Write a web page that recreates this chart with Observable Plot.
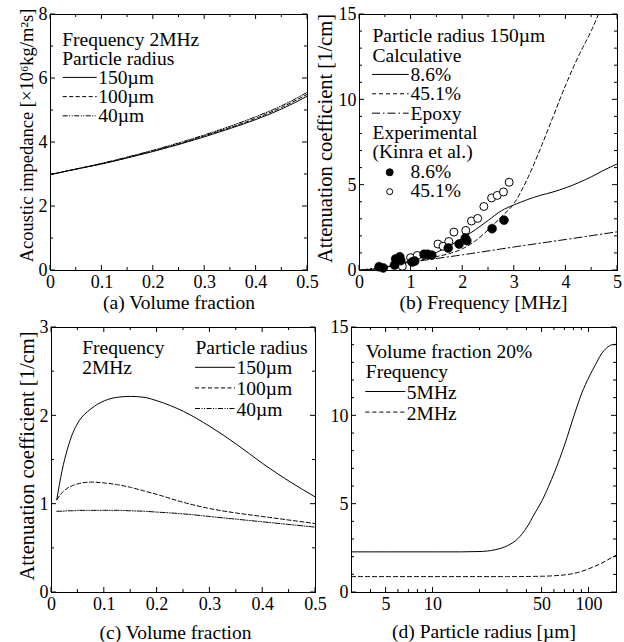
<!DOCTYPE html>
<html><head><meta charset="utf-8">
<script src="https://cdn.jsdelivr.net/npm/d3@7"></script>
<script src="https://cdn.jsdelivr.net/npm/@observablehq/plot@0.6"></script>
<style>
body{margin:0;background:#fff;}
#chart{position:relative;width:624px;height:642px;overflow:hidden;font-family:"Liberation Serif","Times New Roman",serif;}
#chart svg{position:absolute;overflow:visible;background:transparent !important;font-family:"Liberation Serif","Times New Roman",serif !important;}
#chart svg text{font-family:"Liberation Serif","Times New Roman",serif !important;}
</style></head><body><div id="chart"></div>
<script>
// ---------- (a) Acoustic impedance vs volume fraction ----------
const fracA = [0, 0.05, 0.1, 0.15, 0.2, 0.25, 0.3, 0.35, 0.4, 0.45, 0.5];
const impedance150 = [3.0, 3.17, 3.33, 3.52, 3.72, 3.94, 4.18, 4.44, 4.72, 5.05, 5.45];
const impedance100 = [3.0, 3.17, 3.34, 3.53, 3.74, 3.96, 4.21, 4.47, 4.76, 5.10, 5.51];
const impedance40  = [3.0, 3.17, 3.35, 3.55, 3.76, 3.99, 4.24, 4.51, 4.81, 5.15, 5.57];

// ---------- (b) Attenuation vs frequency ----------
const freqCalc = [0, 0.25, 0.5, 0.75, 1, 1.25, 1.5, 1.75, 2, 2.25, 2.5, 2.75, 3, 3.25, 3.5, 3.75, 4, 4.25, 4.5, 4.75, 5];
const att86Calc = [0, 0.06, 0.18, 0.36, 0.58, 0.82, 1.07, 1.45, 1.9, 2.4, 2.95, 3.5, 3.85, 4.15, 4.4, 4.6, 4.85, 5.15, 5.5, 5.9, 6.25];
const freq451 = [0, 0.5, 1, 1.25, 1.5, 1.75, 2, 2.25, 2.5, 2.75, 3, 3.25, 3.5, 3.75, 4, 4.25, 4.5, 4.63];
const att451Calc = [0, 0.2, 0.5, 0.65, 0.82, 1.0, 1.28, 1.75, 2.4, 3.15, 3.95, 5.35, 7.1, 9.0, 10.9, 12.6, 14.1, 15.0];
const freqEpoxy = [0, 1, 2, 3, 4, 5];
const attEpoxy = [0, 0.49, 0.92, 1.38, 1.82, 2.27];
const exp86Freq = [0.38, 0.46, 0.68, 0.70, 0.78, 0.80, 1.02, 1.07, 1.25, 1.32, 1.40, 1.72, 1.93, 2.05, 2.08, 2.57, 2.80];
const exp86Att  = [0.22, 0.15, 0.32, 0.68, 0.80, 0.58, 0.50, 0.55, 0.95, 0.95, 0.90, 1.32, 1.55, 1.90, 1.75, 2.45, 2.95];
const exp451Freq = [0.83, 0.99, 1.12, 1.52, 1.62, 1.73, 1.83, 2.06, 2.17, 2.29, 2.41, 2.56, 2.67, 2.79, 2.90];
const exp451Att  = [0.25, 0.75, 0.88, 1.55, 1.42, 1.70, 2.25, 2.35, 2.90, 3.05, 3.75, 4.25, 4.40, 4.60, 5.17];

// ---------- (c) Attenuation vs volume fraction ----------
const fracC = [0.01, 0.02, 0.03, 0.04, 0.05, 0.075, 0.1, 0.125, 0.15, 0.175, 0.2, 0.25, 0.3, 0.35, 0.4, 0.45, 0.5];
const attC150 = [1.05, 1.38, 1.62, 1.8, 1.92, 2.08, 2.17, 2.21, 2.22, 2.21, 2.17, 2.05, 1.88, 1.68, 1.46, 1.26, 1.08];
const attC100 = [1.05, 1.13, 1.18, 1.21, 1.23, 1.25, 1.24, 1.22, 1.19, 1.15, 1.11, 1.02, 0.95, 0.9, 0.86, 0.82, 0.78];
const attC40  = [0.92, 0.92, 0.925, 0.925, 0.93, 0.93, 0.93, 0.93, 0.925, 0.92, 0.91, 0.89, 0.86, 0.83, 0.80, 0.77, 0.74];

// ---------- (d) Attenuation vs particle radius ----------
const radius5 = [3, 5, 10, 15, 20, 25, 30, 35, 40, 45, 50, 55, 60, 70, 80, 90, 100, 110, 120, 130, 140, 150];
const att5MHz = [2.3, 2.3, 2.3, 2.3, 2.32, 2.42, 2.65, 3.05, 3.7, 4.5, 5.2, 6.0, 6.8, 8.4, 10.0, 11.3, 12.2, 12.9, 13.5, 13.85, 14.02, 14.05];
const radius2 = [3, 10, 30, 50, 60, 70, 80, 90, 100, 110, 120, 130, 140, 150];
const att2MHz = [0.9, 0.9, 0.9, 0.92, 0.95, 1.0, 1.08, 1.2, 1.35, 1.5, 1.65, 1.82, 1.98, 2.12];

// ---------- tick values ----------
const fracMajor = [0, 0.1, 0.2, 0.3, 0.4, 0.5];
const fracMinor = [0.05, 0.15, 0.25, 0.35, 0.45];
const impMajor = [0, 2, 4, 6, 8];
const impMinor = [1, 3, 5, 7];
const freqMajor = [0, 1, 2, 3, 4, 5];
const freqMinor = [0.5, 1.5, 2.5, 3.5, 4.5];
const att15Major = [0, 5, 10, 15];
const att15Minor = [1, 2, 3, 4, 6, 7, 8, 9, 11, 12, 13, 14];
const att3Major = [0, 1, 2, 3];
const att3Minor = [0.5, 1.5, 2.5];
const radiusLabels = [5, 10, 50, 100];
const radiusMajor = [5, 10, 50, 100];
const radiusMinor = [4, 6, 7, 8, 9, 20, 30, 40, 60, 70, 80, 90];

const FONT = '"Liberation Serif","Times New Roman",serif';
const pts = (xs, ys) => xs.map((x, i) => ({x, y: ys[i]}));

function insideTicks(xMaj, xMin, yMaj, yMin) {
  return (index, scales, values, dims) => {
    const {width, height, marginLeft, marginRight, marginTop, marginBottom} = dims;
    const L = marginLeft, R = width - marginRight, T = marginTop, B = height - marginBottom;
    const p = d3.path();
    for (const [vals, len] of [[xMaj, 5], [xMin, 3]]) for (const v of vals) {
      const px = scales.x(v); p.moveTo(px, B); p.lineTo(px, B - len); p.moveTo(px, T); p.lineTo(px, T + len);
    }
    for (const [vals, len] of [[yMaj, 5], [yMin, 3]]) for (const v of vals) {
      const py = scales.y(v); p.moveTo(L, py); p.lineTo(L + len, py); p.moveTo(R, py); p.lineTo(R - len, py);
    }
    return d3.create("svg:path").attr("d", p.toString()).attr("stroke", "black").attr("fill", "none").attr("stroke-width", 1).node();
  };
}

function legendSamples(items) {
  return (index, scales, values, dims) => {
    const L = dims.marginLeft, T = dims.marginTop;
    const g = d3.create("svg:g");
    for (const it of items) {
      if (it.marker) {
        g.append("circle").attr("cx", L + it.cx).attr("cy", T + it.cy).attr("r", it.r)
          .attr("fill", it.marker === "filled" ? "black" : "white").attr("stroke", "black").attr("stroke-width", 1);
      } else {
        g.append("line").attr("x1", L + it.x1).attr("x2", L + it.x2).attr("y1", T + it.y).attr("y2", T + it.y)
          .attr("stroke", "black").attr("stroke-width", 1).attr("stroke-dasharray", it.dash || null);
      }
    }
    return g.node();
  };
}

const txt = (t, dx, dy, opts = {}) => Plot.text([t], {text: d => d, frameAnchor: "top-left", dx, dy, textAnchor: "start", lineAnchor: "bottom", fontSize: 19.5, fill: "black", ...opts});
const yTitle = (t, dx, dy, fs) => Plot.text([t], {text: d => d, frameAnchor: "left", textAnchor: "middle", lineAnchor: "middle", rotate: -90, dx, dy, fontSize: fs, fill: "black"});
const xTitle = (t, dx, dy) => Plot.text([t], {text: d => d, frameAnchor: "bottom", textAnchor: "middle", lineAnchor: "bottom", dx, dy, fontSize: 19.5, fill: "black"});

// tick labels as text marks positioned through the scales
const xLabels = (vals) => Plot.text(vals, {x: d => d, text: d => String(d), frameAnchor: "bottom", dy: 5, lineAnchor: "top", fontSize: 18, fill: "black"});
const yLabels = (vals) => Plot.text(vals, {y: d => d, text: d => String(d), frameAnchor: "left", dx: -3, textAnchor: "end", fontSize: 18, fill: "black"});

function frameAxes(xLab, yLab) {
  return [Plot.frame({stroke: "black", strokeWidth: 1}), xLabels(xLab), yLabels(yLab)];
}

function place(svg, left, top) {
  svg.style.left = left + "px"; svg.style.top = top + "px";
  document.getElementById("chart").appendChild(svg);
}

const common = {style: {fontFamily: FONT, color: "black", background: "transparent", overflow: "visible"}};

const DASH = "4,2.5", DASHDOT2 = "5,1.5,1,1.5,1,1.5", DASHB = "4,3", EPOXY = "8,3,1.5,3";

// ---------- Panel (a) ----------
place(Plot.plot({
  ...common, width: 312, height: 320,
  marginLeft: 50, marginRight: 5, marginTop: 14, marginBottom: 50,
  x: {domain: [0, 0.5], axis: null}, y: {domain: [0, 8], axis: null},
  marks: [
    ...frameAxes(fracMajor, impMajor),
    insideTicks(fracMajor, fracMinor, impMajor, impMinor),
    Plot.line(pts(fracA, impedance40), {x: "x", y: "y", stroke: "black", strokeWidth: 1, strokeDasharray: DASHDOT2, curve: "monotone-x"}),
    Plot.line(pts(fracA, impedance100), {x: "x", y: "y", stroke: "black", strokeWidth: 1, strokeDasharray: DASH, curve: "monotone-x"}),
    Plot.line(pts(fracA, impedance150), {x: "x", y: "y", stroke: "black", strokeWidth: 1, curve: "monotone-x"}),
    xTitle("(a) Volume fraction", 0, 38),
    yTitle("Acoustic impedance [×10⁶kg/m²s]", -23, -7, 18.5),
    txt("Frequency 2MHz", 11.7, 31),
    txt("Particle radius", 11.7, 50.2),
    txt("150µm", 47.7, 69.4),
    txt("100µm", 47.7, 88.6),
    txt("40µm", 47.7, 107.8),
    legendSamples([
      {x1: 12.7, x2: 46.7, y: 63.4},
      {x1: 12.7, x2: 46.7, y: 82.6, dash: DASH},
      {x1: 12.7, x2: 46.7, y: 101.8, dash: DASHDOT2}
    ])
  ]
}), 0, 0);

// ---------- Panel (b) ----------
const lb = i => 27.7 + 19.37 * i;
place(Plot.plot({
  ...common, width: 312, height: 320,
  marginLeft: 47, marginRight: 7, marginTop: 14, marginBottom: 50,
  x: {domain: [0, 5], axis: null}, y: {domain: [0, 15], axis: null},
  marks: [
    ...frameAxes(freqMajor, att15Major),
    insideTicks(freqMajor, freqMinor, att15Major, att15Minor),
    Plot.line(pts(freqEpoxy, attEpoxy), {x: "x", y: "y", stroke: "black", strokeWidth: 1, strokeDasharray: EPOXY, curve: "monotone-x"}),
    Plot.line(pts(freq451, att451Calc), {x: "x", y: "y", stroke: "black", strokeWidth: 1, strokeDasharray: DASHB, curve: "monotone-x"}),
    Plot.line(pts(freqCalc, att86Calc), {x: "x", y: "y", stroke: "black", strokeWidth: 1, curve: "monotone-x"}),
    Plot.dot(pts(exp451Freq, exp451Att), {x: "x", y: "y", r: 4, fill: "white", stroke: "black", strokeWidth: 1}),
    Plot.dot(pts(exp86Freq, exp86Att), {x: "x", y: "y", r: 4.5, fill: "black", stroke: "black", strokeWidth: 0.5}),
    xTitle("(b) Frequency [MHz]", -5, 38),
    yTitle("Attenuation coefficient [1/cm]", -34, -4, 20.5),
    txt("Particle radius 150µm", 13, lb(0)),
    txt("Calculative", 13, lb(1)),
    txt("8.6%", 51, lb(2)),
    txt("45.1%", 51, lb(3)),
    txt("Epoxy", 51, lb(4)),
    txt("Experimental", 13, lb(5)),
    txt("(Kinra et al.)", 13, lb(6)),
    txt("8.6%", 51, lb(7)),
    txt("45.1%", 51, lb(8)),
    legendSamples([
      {x1: 13, x2: 49.7, y: lb(2) - 6},
      {x1: 13, x2: 49.7, y: lb(3) - 6, dash: DASHB},
      {x1: 13, x2: 49.7, y: lb(4) - 6, dash: EPOXY},
      {marker: "filled", cx: 30.7, cy: lb(7) - 5, r: 3.5},
      {marker: "open", cx: 30.7, cy: lb(8) - 5, r: 3}
    ])
  ]
}), 312, 0);

// ---------- Panel (c) ----------
const lc = i => 26.3 + 20.6 * i;
place(Plot.plot({
  ...common, width: 318, height: 322,
  marginLeft: 51, marginRight: 3, marginTop: 7, marginBottom: 50,
  x: {domain: [0, 0.5], axis: null}, y: {domain: [0, 3], axis: null},
  marks: [
    ...frameAxes(fracMajor, att3Major),
    insideTicks(fracMajor, fracMinor, att3Major, att3Minor),
    Plot.line(pts(fracC, attC40), {x: "x", y: "y", stroke: "black", strokeWidth: 1, strokeDasharray: DASHDOT2, curve: "monotone-x"}),
    Plot.line(pts(fracC, attC100), {x: "x", y: "y", stroke: "black", strokeWidth: 1, strokeDasharray: DASH, curve: "monotone-x"}),
    Plot.line(pts(fracC, attC150), {x: "x", y: "y", stroke: "black", strokeWidth: 1, curve: "monotone-x"}),
    xTitle("(c) Volume fraction", -8, 46),
    yTitle("Attenuation coefficient [1/cm]", -24, -4, 20.5),
    txt("Frequency", 30.7, lc(0)),
    txt("2MHz", 30.7, lc(1)),
    txt("Particle radius", 144, lc(0)),
    txt("150µm", 185, lc(1)),
    txt("100µm", 185, lc(2)),
    txt("40µm", 185, lc(3)),
    legendSamples([
      {x1: 144, x2: 184, y: lc(1) - 6.6},
      {x1: 144, x2: 184, y: lc(2) - 6.6, dash: DASH},
      {x1: 144, x2: 184, y: lc(3) - 6.6, dash: DASHDOT2}
    ])
  ]
}), 0, 320);

// ---------- Panel (d) ----------
const ld = i => 30.3 + 20.6 * i;
place(Plot.plot({
  ...common, width: 306, height: 322,
  marginLeft: 33, marginRight: 8, marginTop: 7, marginBottom: 50,
  x: {type: "log", domain: [3, 150], axis: null}, y: {domain: [0, 15], axis: null},
  marks: [
    ...frameAxes(radiusLabels, att15Major),
    insideTicks(radiusMajor, radiusMinor, att15Major, att15Minor),
    Plot.line(pts(radius2, att2MHz), {x: "x", y: "y", stroke: "black", strokeWidth: 1, strokeDasharray: DASHB, curve: "monotone-x"}),
    Plot.line(pts(radius5, att5MHz), {x: "x", y: "y", stroke: "black", strokeWidth: 1, curve: "monotone-x"}),
    xTitle("(d) Particle radius [µm]", 0, 45),
    txt("Volume fraction 20%", 14.3, ld(0)),
    txt("Frequency", 14.3, ld(1)),
    txt("5MHz", 55.3, ld(2)),
    txt("2MHz", 55.3, ld(3)),
    legendSamples([
      {x1: 14.3, x2: 54.3, y: ld(2) - 7},
      {x1: 14.3, x2: 54.3, y: ld(3) - 7, dash: DASHB}
    ])
  ]
}), 318, 320);
</script></body></html>
